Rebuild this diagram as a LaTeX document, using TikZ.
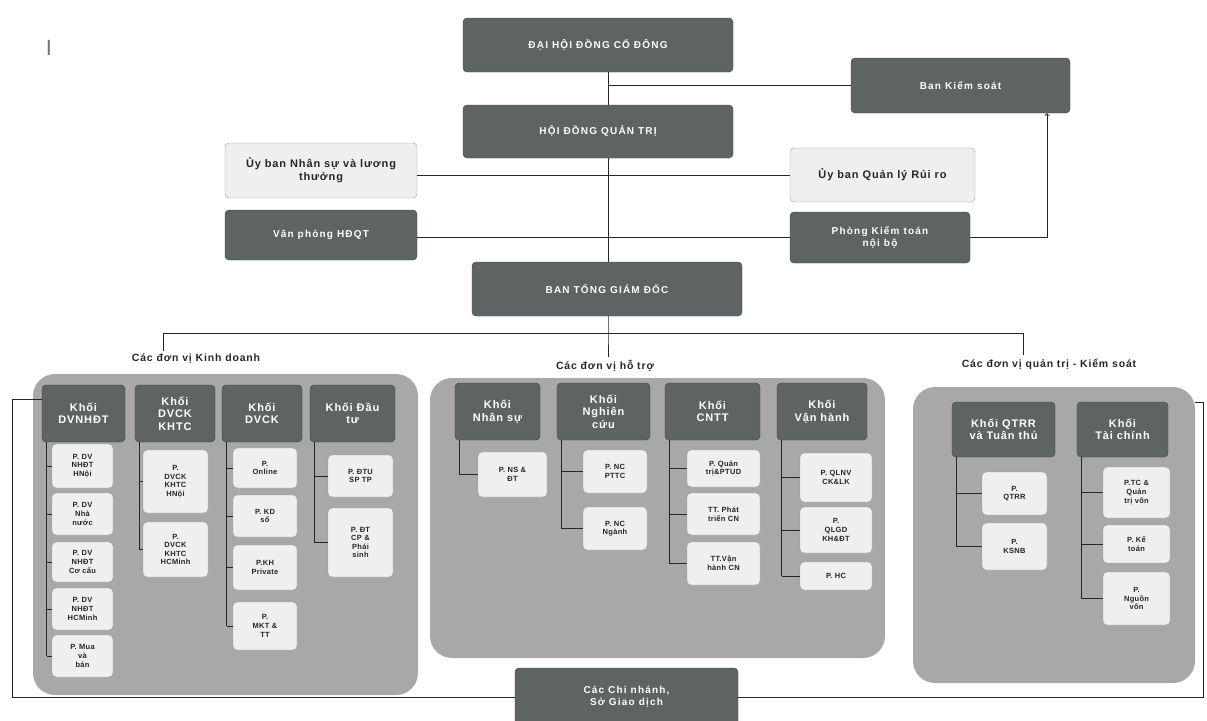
\documentclass[tikz,border=0pt]{standalone}
\usepackage{fontspec}
\setmainfont{Liberation Sans}
\usetikzlibrary{positioning,calc}
\definecolor{boxdark}{HTML}{5E6464}
\definecolor{panelgray}{HTML}{A8A8A8}
\definecolor{boxlight}{HTML}{EFEFEF}
\begin{document}
\begin{tikzpicture}[x=1pt,y=-1pt,
darkbox/.style={draw=black!75, fill=boxdark, rounded corners=4pt, text=white, align=center, inner sep=2pt, font=\bfseries\fontsize{10}{12}\selectfont\addfontfeature{LetterSpace=12}},
headbox/.style={darkbox, font=\bfseries\fontsize{11}{12.5}\selectfont\addfontfeature{LetterSpace=8}},
lightbox/.style={draw=black!40, fill=boxlight, rounded corners=4pt, text=black!85, align=center, inner sep=2pt, font=\bfseries\fontsize{11}{13}\selectfont\addfontfeature{LetterSpace=8}},
subbox/.style={lightbox, font=\bfseries\fontsize{7.5}{8.6}\selectfont\addfontfeature{LetterSpace=4}},
panel/.style={fill=panelgray, rounded corners=22pt},
grouplbl/.style={text=black!85, font=\bfseries\fontsize{10.5}{12}\selectfont\addfontfeature{LetterSpace=8}},
link/.style={black!85, line width=0.9pt}]
\useasboundingbox (0,0) rectangle (1207,720);
\node[text=black!55, font=\fontsize{22}{22}\selectfont] (mark) at (49,48) {I};
% the three grey groups
\node[panel, minimum width=385, minimum height=321] (pkd) at (225.5,534.5) {};
\node[panel, minimum width=455, minimum height=280] (pht) at (657.5,518) {};
\node[panel, minimum width=282, minimum height=296] (pqt) at (1054,535) {};
% top of the chart
\node[darkbox, minimum width=270, minimum height=54] (dhdcd) at (598,45) {ĐẠI HỘI ĐỒNG CỔ ĐÔNG};
\node[darkbox, minimum width=270, minimum height=53] (hdqt) at (598,131.5) {HỘI ĐỒNG QUẢN TRỊ};
\node[darkbox, minimum width=219, minimum height=55] (bks) at (960.5,85.5) {Ban Kiểm soát};
\node[lightbox, minimum width=192, minimum height=55] (ubns) at (321,170.5) {Ủy ban Nhân sự và lương\\thưởng};
\node[lightbox, minimum width=185, minimum height=54] (ubrr) at (882.5,175) {Ủy ban Quản lý Rủi ro};
\node[darkbox, minimum width=192, minimum height=50] (vp) at (321,235) {Văn phòng HĐQT};
\node[darkbox, minimum width=180, minimum height=51] (ktnb) at (880,237.5) {Phòng Kiểm toán\\nội bộ};
\node[darkbox, minimum width=270, minimum height=54] (btgd) at (607,289) {BAN TỔNG GIÁM ĐỐC};
\node[darkbox, minimum width=223, minimum height=58] (cn) at (626.5,697) {Các Chi nhánh,\\Sở Giao dịch};
\coordinate (spine) at (608,0);
\coordinate (bar) at (0,333);
\coordinate (kdx) at (163,0);
\coordinate (qtx) at (1023,0);
\coordinate (lc) at (12,0);
\coordinate (rc) at (1203,402);
\draw[link] (dhdcd.south -| spine) -- (hdqt.north -| spine);
\draw[link] (spine |- bks.west) -- (bks.west);
\draw[link] (hdqt.south -| spine) -- (btgd.north -| spine);
\draw[link] (ubns.east |- ubrr.west) -- (ubrr.west);
\draw[link] (vp.east |- ktnb.west) -- (ktnb.west);
\draw[link, ->] (ktnb.east) -| ([xshift=86.5pt]bks.south);
% group labels
\node[grouplbl] (lkd) at (196,359) {Các đơn vị Kinh doanh};
\node[grouplbl] (lht) at (605,366) {Các đơn vị hỗ trợ};
\node[grouplbl] (lqt) at (1049,364) {Các đơn vị quản trị - Kiểm soát};
\draw[link] (btgd.south -| spine) -- (bar -| spine) -- (spine |- lht.north);
\draw[link] (kdx |- lkd.north) |- (bar -| qtx) -- (qtx |- lqt.north);
% heads of the blocks
\foreach \n/\xa/\xb/\txt in {k1/42/125/{Khối\\DVNHĐT}, k2/135/215/{Khối\\DVCK\\KHTC},
  k3/222/302/{Khối\\DVCK}, k4/310/395/{Khối Đầu\\tư}}
  \node[headbox, minimum width=\xb-\xa, minimum height=57] (\n) at ({(\xa+\xb)/2},413.5) {\txt};
\foreach \n/\xa/\xb/\txt in {m1/455/540/{Khối\\Nhân sự}, m2/557/650/{Khối\\Nghiên\\cứu},
  m3/665/760/{Khối\\CNTT}, m4/777/867/{Khối\\Vận hành}}
  \node[headbox, minimum width=\xb-\xa, minimum height=57] (\n) at ({(\xa+\xb)/2},411.5) {\txt};
\foreach \n/\xa/\xb/\txt in {r1/952/1055/{Khối QTRR\\và Tuân thủ}, r2/1077/1168/{Khối\\Tài chính}}
  \node[headbox, minimum width=\xb-\xa, minimum height=55] (\n) at ({(\xa+\xb)/2},429.5) {\txt};
\foreach \n in {k1,k2,k3,k4,m1,m2,m3,m4,r1,r2}
  \coordinate (\n-t) at ([xshift=5pt]\n.south west);
% departments
\foreach \n/\i/\xa/\xb/\ya/\yb/\txt in {
  k1/1/52/113/444/488/{P. DV\\NHĐT\\HNội}, k1/2/52/113/493/535/{P. DV\\Nhà\\nước},
  k1/3/52/113/542/582/{P. DV\\NHĐT\\Cơ cấu}, k1/4/52/113/588/630/{P. DV\\NHĐT\\HCMinh},
  k1/5/52/113/635/677/{P. Mua\\và\\bán},
  k2/1/143/208/450/513/{P.\\DVCK\\KHTC\\HNội}, k2/2/143/208/522/577/{P.\\DVCK\\KHTC\\HCMinh},
  k3/1/233/297/448/488/{P.\\Online}, k3/2/233/297/495/537/{P. KD\\số},
  k3/3/233/297/545/590/{P.KH\\Private}, k3/4/233/297/602/650/{P.\\MKT \&\\TT},
  k4/1/328/393/455/497/{P. ĐTU\\SP TP}, k4/2/328/393/508/577/{P. ĐT\\CP \&\\Phái\\sinh},
  m1/1/478/547/452/497/{P. NS \&\\ĐT},
  m2/1/583/647/450/493/{P. NC\\PTTC}, m2/2/583/647/507/550/{P. NC\\Ngành},
  m3/1/687/760/450/487/{P. Quản\\trị\&PTUD}, m3/2/687/760/493/535/{TT. Phát\\triển CN},
  m3/3/687/760/542/585/{TT.Vận\\hành CN},
  m4/1/800/872/453/502/{P. QLNV\\CK\&LK}, m4/2/800/872/507/553/{P.\\QLGD\\KH\&ĐT},
  m4/3/800/872/562/590/{P. HC},
  r1/1/982/1047/472/515/{P.\\QTRR}, r1/2/982/1047/523/570/{P.\\KSNB},
  r2/1/1103/1170/467/518/{P.TC \&\\Quản\\trị vốn}, r2/2/1103/1170/525/563/{P. Kế\\toán},
  r2/3/1103/1170/572/625/{P.\\Nguồn\\vốn}}{
  \node[subbox, minimum width=\xb-\xa, minimum height=\yb-\ya] (\n\i) at ({(\xa+\xb)/2},{(\ya+\yb)/2}) {\txt};
  \draw[link] (\n-t |- \n\i.west) -- (\n\i.west);
}
\foreach \n/\last in {k1/5,k2/2,k3/4,k4/2,m1/1,m2/2,m3/3,m4/3,r1/2,r2/3}
  \draw[link] (\n-t) -- (\n-t |- \n\last.west);
% branches round the groups
\draw[link] ([yshift=14pt]k1.west) -| (lc |- cn.west) -- (cn.west);
\draw[link] (cn.east) -| (rc) -- (rc -| pqt.east);
\end{tikzpicture}
\end{document}
